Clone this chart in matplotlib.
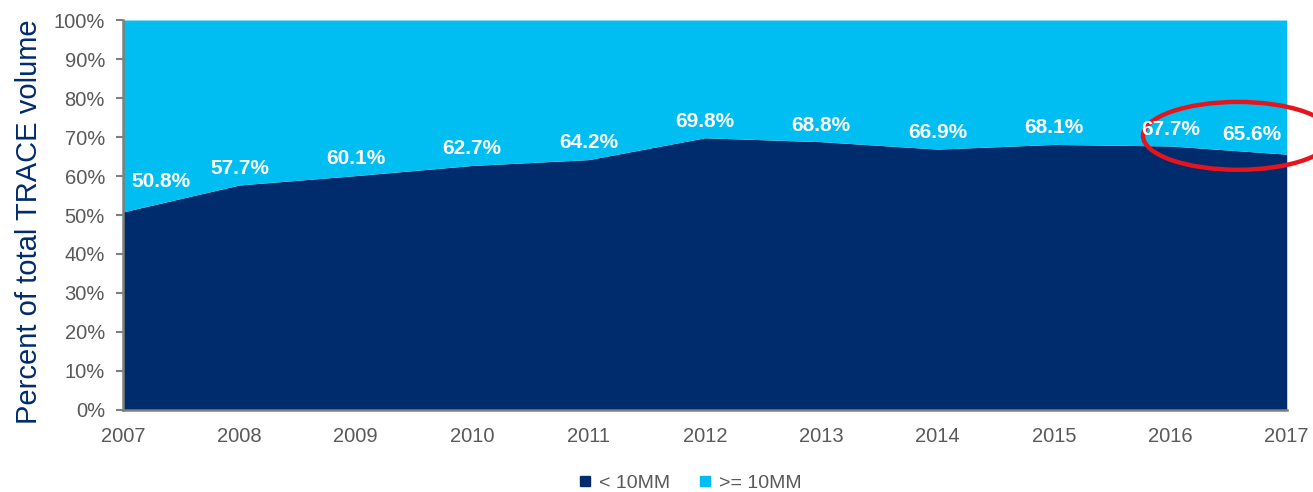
import matplotlib
matplotlib.use("Agg")
import matplotlib.pyplot as plt
from matplotlib.patches import Ellipse
from matplotlib.lines import Line2D

plt.rcParams['font.family'] = ['Liberation Sans', 'DejaVu Sans']

# Share of TRACE volume from trades under $10MM, by year
years = [2007, 2008, 2009, 2010, 2011, 2012, 2013, 2014, 2015, 2016, 2017]
small_share = [50.8, 57.7, 60.1, 62.7, 64.2, 69.8, 68.8, 66.9, 68.1, 67.7, 65.6]
series_names = ['< 10MM', '>= 10MM']
yticks = list(range(0, 101, 10))

navy = '#002C6E'
light = '#00BEF2'
gray = '#595959'

fig = plt.figure(figsize=(13.13, 4.92), dpi=100)
ax = fig.add_axes([0.0937, 0.1667, 0.8863, 0.7926])

ax.fill_between(years, 0, small_share, color=navy, linewidth=0)
ax.fill_between(years, small_share, 100, color=light, linewidth=0)

ax.set_xlim(years[0], years[-1])
ax.set_ylim(0, 100)
ax.set_xticks(years)
ax.set_xticklabels([str(y) for y in years])
ax.set_yticks(yticks)
ax.set_yticklabels([f'{t}%' for t in yticks])

ax.tick_params(axis='y', length=5, width=1.5, color='#7f7f7f', pad=8,
               labelsize=14.5, labelcolor=gray)
ax.tick_params(axis='x', length=0, pad=12, labelsize=14.5, labelcolor=gray)

for side in ['top', 'right']:
    ax.spines[side].set_visible(False)
for side in ['left', 'bottom']:
    ax.spines[side].set_color('#7f7f7f')
    ax.spines[side].set_linewidth(1.8)

ax.set_ylabel('Percent of total TRACE volume', fontsize=21, color=navy)
ax.yaxis.set_label_coords(-0.069, 0.482)

# value labels above the boundary line
for i, (x, v) in enumerate(zip(years, small_share)):
    dx, dy = 0, 12
    if i == 0:
        dx, dy = 27, 22
    elif i == len(years) - 1:
        dx, dy = -25, 14
    ax.annotate(f'{v}%', (x, v), xytext=(dx, dy), textcoords='offset points',
                ha='center', va='center', color='white', fontsize=15,
                fontweight='bold')

# highlight the last two years
ring = Ellipse((2016.58, 70.3), width=1.63, height=17.4, fill=False,
               edgecolor='#E8141C', linewidth=3.2, clip_on=False)
ax.add_patch(ring)

handles = [Line2D([], [], marker='s', linestyle='none', markersize=7.5,
                  markerfacecolor=c, markeredgecolor=c) for c in (navy, light)]
fig.legend(handles, series_names, loc='center', bbox_to_anchor=(0.525, 0.018),
           ncol=2, frameon=False, fontsize=14, labelcolor=gray,
           handlelength=0.8, handletextpad=0.3, columnspacing=1.4)

fig.savefig('out.png', dpi=100)
